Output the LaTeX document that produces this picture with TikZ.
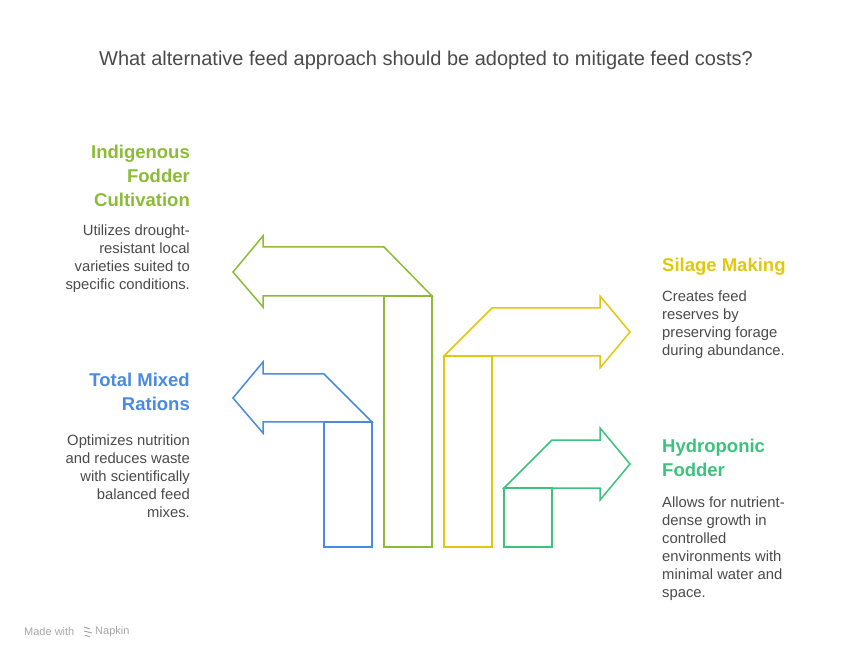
\documentclass[tikz,border=0pt]{standalone}
\usepackage{fontspec}
\setmainfont{Liberation Sans}
\usepackage{xcolor}
\usepackage{tikz}
\usetikzlibrary{positioning}
\definecolor{indig}{HTML}{8CBB38}
\definecolor{tmr}{HTML}{4A8AE0}
\definecolor{silage}{HTML}{E2C80C}
\definecolor{hydro}{HTML}{3CC27C}
\definecolor{txt}{HTML}{4A4A4A}
\tikzset{head/.style={inner sep=0pt,font=\fontsize{18.5}{24}\selectfont\bfseries},
  body/.style={inner sep=0pt,text=txt,font=\fontsize{14.8}{18}\selectfont},
  shp/.style={line width=1.5pt,line join=miter}}

\begin{document}
\begin{tikzpicture}[x=1pt,y=-1pt]
    \useasboundingbox (0,0) rectangle (852,660);
    \node[inner sep=0pt,text=txt,font=\fontsize{20}{24}\selectfont] (title)at (426,60) {What alternative feed approach should be adopted to mitigate feed costs?};

    % left arrows
    \draw[shp,indig] (233,272) -- (263,236) -- (263,247) -- (384,247) -- (432,296) -- (263,296) -- (263,307) -- cycle;
    \draw[shp,indig] (384,296) rectangle (432,547);
    \draw[shp,tmr] (233,398) -- (263,362) -- (263,374) -- (324,374) -- (372,422) -- (263,422) -- (263,433) -- cycle;
    \draw[shp,tmr] (324,422) rectangle (372,547);

    % right arrows
    \draw[shp,silage] (630,332) -- (600,296) -- (600,308) -- (492,308) -- (444,356) -- (600,356) -- (600,368) -- cycle;
    \draw[shp,silage] (444,356) rectangle (492,547);
    \draw[shp,hydro] (630,464) -- (600,428) -- (600,440) -- (552,440) -- (504,488) -- (600,488) -- (600,500) -- cycle;
    \draw[shp,hydro] (504,488) rectangle (552,547);

    \node[head,indig,anchor=east,align=right] (ifc)at (190,176) {Indigenous\\Fodder\\Cultivation};
    \node[body,anchor=east,align=right] (ifcb)at (190,259) {Utilizes drought-\\resistant local\\varieties suited to\\specific conditions.};
    \node[head,tmr,anchor=east,align=right] (tmrh)at (190,392) {Total Mixed\\Rations};
    \node[body,anchor=east,align=right] (tmrb)at (190,476) {Optimizes nutrition\\and reduces waste\\with scientifically\\balanced feed\\mixes.};
    \node[head,silage,anchor=west,align=left] (sm)at (662,267) {Silage Making};
    \node[body,anchor=west,align=left] (smb)at (662,325) {Creates feed\\reserves by\\preserving forage\\during abundance.};
    \node[head,hydro,anchor=west,align=left] (hf)at (662,458) {Hydroponic\\Fodder};
    \node[body,anchor=west,align=left] (hfb)at (662,549) {Allows for nutrient-\\dense growth in\\controlled\\environments with\\minimal water and\\space.};

    \node[inner sep=0pt,anchor=west,text=gray!70,font=\fontsize{11}{13}\selectfont] (made)at (24,632) {Made with};
    \draw[gray!70,line width=1pt] (84,627) -- (90,629) (84,631) -- (92,633) (85,635) -- (90,637);
    \node[inner sep=0pt,anchor=west,text=gray!70,font=\fontsize{11}{13}\selectfont] (napkin)at (95,632) {Napkin};
\end{tikzpicture}
\end{document}
